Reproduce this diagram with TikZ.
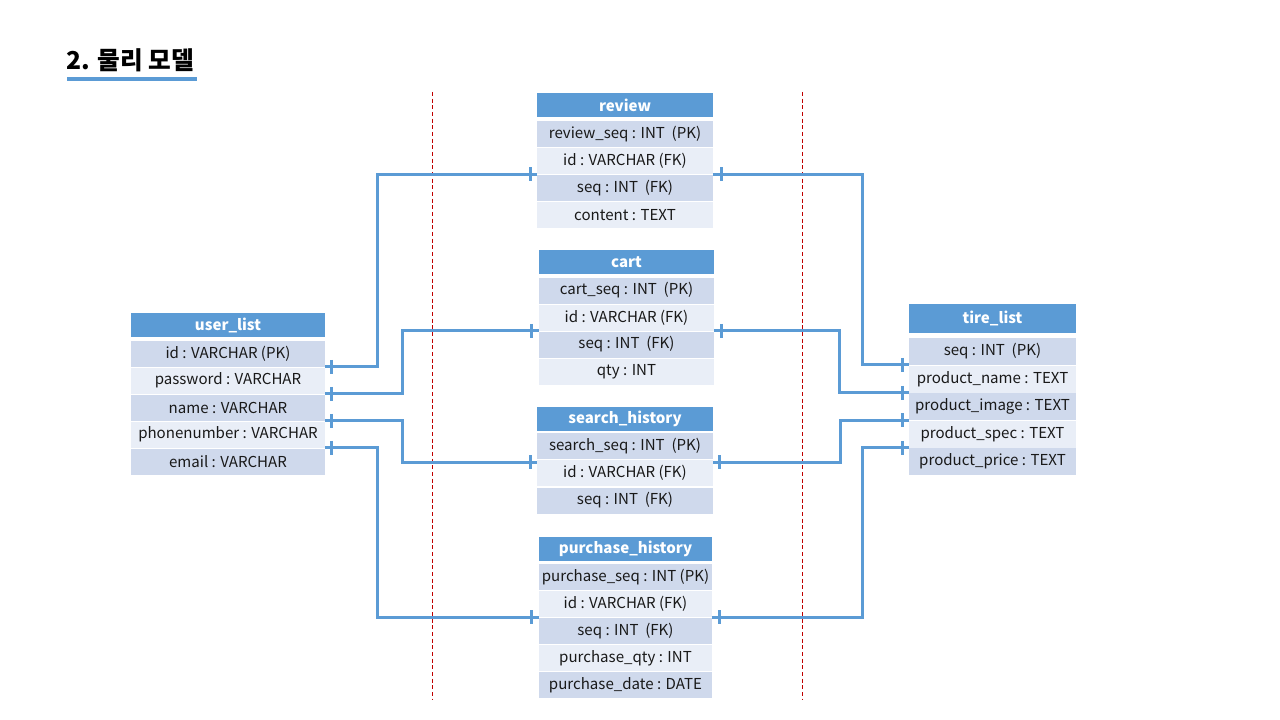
\documentclass[tikz,border=0pt]{standalone}
\usepackage{fontspec}
\setmainfont{Noto Sans CJK KR}
\definecolor{hdr}{HTML}{5B9BD5}
\definecolor{rowA}{HTML}{CFD9EC}
\definecolor{rowB}{HTML}{E9EEF7}
\definecolor{ln}{HTML}{5B9BD5}
\definecolor{sep}{HTML}{C00000}
\newcommand\tk[2]{\draw[tick] (#1) ++(#2,-7) -- ++(0,14);}
\begin{document}
\begin{tikzpicture}[x=0.75pt,y=-0.75pt,
 cell/.style={rectangle, inner sep=0pt, minimum height=26*0.75pt, font=\fontsize{11.3}{13}\selectfont, text=black!90},
 head/.style={cell, fill=hdr, text=white, font=\fontsize{11.3}{13}\selectfont\bfseries, minimum height=24*0.75pt},
 ra/.style={cell, fill=rowA},
 rb/.style={cell, fill=rowB},
 conn/.style={draw=ln, line width=2.25pt},
 tick/.style={draw=ln, line width=2.25pt},
 divider/.style={draw=sep, line width=0.75pt, dash pattern=on 3pt off 2pt}]
\useasboundingbox (0,0) rectangle (1280,720);

% title
\node[anchor=west, inner sep=0pt, font=\fontsize{18.5}{22}\selectfont\bfseries] (title) at (66,60) {2. 물리 모델};
\draw[ln, line width=3pt] (title.south west) ++(1,7) coordinate (ul1) -- ++(130,0) coordinate (ul2);

% dividers
\coordinate (d1a) at (432,92); \coordinate (d1b) at (432,700);
\coordinate (d2a) at (802,92); \coordinate (d2b) at (802,700);
\draw[divider] (d1a) -- (d1b);
\draw[divider] (d2a) -- (d2b);

% user_list
\begin{scope}[every node/.append style={minimum width=194*0.75pt}]
\node[head] (u0) at (228,325) {user\_list};
\node[ra] (u1) at (228,353.5) {id : VARCHAR (PK)};
\node[rb] (u2) at (228,380.5) {password : VARCHAR};
\node[ra] (u3) at (228,407.5) {name : VARCHAR};
\node[rb] (u4) at (228,434.5) {phonenumber : VARCHAR};
\node[ra] (u5) at (228,461.5) {email : VARCHAR};
\end{scope}

% review
\begin{scope}[every node/.append style={minimum width=176*0.75pt}]
\node[head] (r0) at (625,105) {review};
\node[ra] (r1) at (625,134) {review\_seq : INT \ (PK)};
\node[rb] (r2) at (625,161) {id : VARCHAR (FK)};
\node[ra] (r3) at (625,188) {seq : INT \ (FK)};
\node[rb] (r4) at (625,215) {content : TEXT};
\end{scope}

% cart
\begin{scope}[every node/.append style={minimum width=175*0.75pt}]
\node[head] (c0) at (626.5,262) {cart};
\node[ra] (c1) at (626.5,290.5) {cart\_seq : INT \ (PK)};
\node[rb] (c2) at (626.5,317.5) {id : VARCHAR (FK)};
\node[ra] (c3) at (626.5,344.5) {seq : INT \ (FK)};
\node[rb] (c4) at (626.5,371.5) {qty : INT};
\end{scope}

% search_history
\begin{scope}[every node/.append style={minimum width=176*0.75pt}]
\node[head] (s0) at (625,419) {search\_history};
\node[ra] (s1) at (625,446) {search\_seq : INT \ (PK)};
\node[rb] (s2) at (625,473) {id : VARCHAR (FK)};
\node[ra] (s3) at (625,500.5) {seq : INT \ (FK)};
\end{scope}

% purchase_history
\begin{scope}[every node/.append style={minimum width=173*0.75pt}]
\node[head] (p0) at (625.5,548.5) {purchase\_history};
\node[ra] (p1) at (625.5,577) {purchase\_seq : INT (PK)};
\node[rb] (p2) at (625.5,604) {id : VARCHAR (FK)};
\node[ra] (p3) at (625.5,631) {seq : INT \ (FK)};
\node[rb] (p4) at (625.5,658) {purchase\_qty : INT};
\node[ra] (p5) at (625.5,685) {purchase\_date : DATE};
\end{scope}

% tire_list
\begin{scope}[every node/.append style={minimum width=167*0.75pt}]
\node[head, minimum height=29*0.75pt] (t0) at (992.5,318.5) {tire\_list};
\node[ra, minimum height=27*0.75pt] (t1) at (992.5,351) {seq : INT \ (PK)};
\node[rb, minimum height=27*0.75pt] (t2) at (992.5,379) {product\_name : TEXT};
\node[ra, minimum height=27*0.75pt] (t3) at (992.5,406.5) {product\_image : TEXT};
\node[rb, minimum height=27*0.75pt] (t4) at (992.5,434) {product\_spec : TEXT};
\node[ra, minimum height=27*0.75pt] (t5) at (992.5,461.5) {product\_price : TEXT};
\end{scope}

\coordinate (sL) at ([yshift=-2.25pt]s1.south west);
\coordinate (sR) at ([yshift=-2.25pt]s1.south east);

% connectors: user_list side
\draw[conn] (u1.south east) -- ++(52,0) |- (r2.south west);
\draw[conn] (u2.south east) -- ++(77,0) |- (c2.south west);
\draw[conn] (u3.south east) -- ++(77,0) |- (sL);
\draw[conn] (u4.south east) -- ++(52,0) |- (p2.south west);
% connectors: tire_list side
\draw[conn] (r2.south east) -- ++(149,0) |- (t1.south west);
\draw[conn] (c2.south east) -- ++(125.5,0) |- (t2.south west);
\draw[conn] (sR) -- ++(127,0) |- (t3.south west);
\draw[conn] (p2.south east) -- ++(150,0) |- (t4.south west);

% ticks
\tk{u1.south east}{6} \tk{u2.south east}{6} \tk{u3.south east}{6} \tk{u4.south east}{6}
\tk{r2.south west}{-6} \tk{c2.south west}{-7} \tk{sL}{-6} \tk{p2.south west}{-7}
\tk{r2.south east}{8} \tk{c2.south east}{7} \tk{sR}{6} \tk{p2.south east}{7}
\tk{t1.south west}{-6} \tk{t2.south west}{-6} \tk{t3.south west}{-6} \tk{t4.south west}{-6}
\end{tikzpicture}
\end{document}
